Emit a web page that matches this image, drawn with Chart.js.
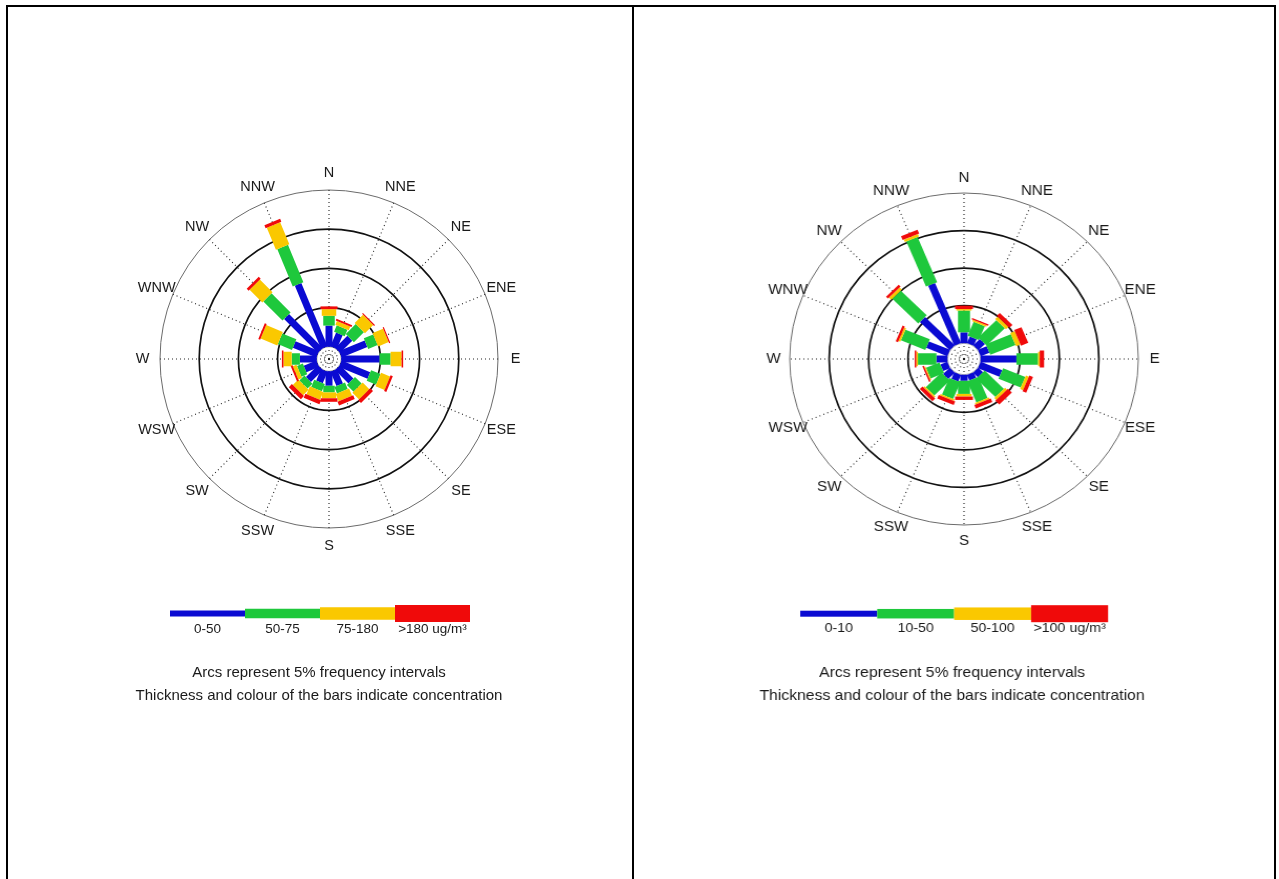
<!DOCTYPE html>
<html>
<head>
<meta charset="utf-8">
<script src="https://cdn.jsdelivr.net/npm/chart.js@4.4.1/dist/chart.umd.min.js"></script>
<style>
html, body { margin: 0; background: #fff; overflow: hidden; }
#frame { position: absolute; left: 6px; top: 5px; width: 1266px; height: 900px; border: 2px solid #000; border-bottom: none; z-index: 2; pointer-events: none; }
#divider { position: absolute; left: 632px; top: 5px; width: 2px; height: 900px; background: #000; z-index: 2; }
canvas { position: absolute; top: 7px; }
#left { left: 8px; }
#right { left: 634px; transform-origin: 330px 352px; transform: scaleX(1.05); }
</style>
</head>
<body>
<div id="frame"></div>
<div id="divider"></div>
<canvas id="left" width="624" height="872"></canvas>
<canvas id="right" width="640" height="872"></canvas>
<script>
// wind directions, clockwise from north
const directions = ['N', 'NNE', 'NE', 'ENE', 'E', 'ESE', 'SE', 'SSE', 'S', 'SSW', 'SW', 'WSW', 'W', 'WNW', 'NW', 'NNW'];
const ringTicks = [0, 5, 10, 15, 20];   // % frequency arcs

// left rose: frequency (%) per concentration class
const leftClasses = ['0-50', '50-75', '75-180', '>180 ug/m³'];
const leftBlue   = [2.7, 1.9, 2.2, 3.55, 4.9, 3.95, 2.4, 2.0, 1.85, 1.6, 2.15, 1.75, 2.15, 3.25, 6.1, 8.75];
const leftGreen  = [1.25, 0.9, 1.8, 1.3, 1.4, 1.3, 1.2, 0.9, 0.85, 1.0, 0.9, 0.8, 1.05, 1.95, 3.45, 5.15];
const leftYellow = [0.85, 0.5, 1.5, 1.45, 1.4, 1.25, 1.2, 1.0, 0.75, 1.1, 1.0, 0.5, 1.05, 2.3, 2.3, 3.05];
const leftRed    = [0.35, 0.25, 0.15, 0.15, 0.2, 0.3, 0.5, 0.5, 0.45, 0.55, 0.55, 0.25, 0.2, 0.25, 0.35, 0.4];

// right rose
const rightClasses = ['0-10', '10-50', '50-100', '>100 ug/m³'];
const rightBlue   = [1.45, 0.95, 1.2, 1.2, 4.55, 2.95, 0.85, 0.8, 0.8, 0.95, 1.2, 0.95, 1.4, 2.9, 5.35, 8.65];
const rightGreen  = [2.9, 2.0, 3.25, 3.45, 2.75, 3.05, 3.45, 3.05, 1.75, 2.4, 2.8, 1.85, 2.35, 3.35, 4.65, 6.5];
const rightYellow = [0.2, 0.2, 0.45, 0.6, 0.2, 0.4, 0.35, 0.2, 0.35, 0.2, 0.2, 0.15, 0.2, 0.25, 0.4, 0.35];
const rightRed    = [0.45, 0.2, 0.55, 1.0, 0.55, 0.5, 0.7, 0.5, 0.45, 0.5, 0.5, 0.2, 0.2, 0.3, 0.35, 0.55];

const captionLines = ['Arcs represent 5% frequency intervals', 'Thickness and colour of the bars indicate concentration'];

const classColors = ['#0a0ad2', '#1ec83c', '#fac800', '#f00a0a'];
const roseWidths = [7, 11.5, 14.5, 17];
const keyHeights = [6, 9.5, 12.5, 17];
const FONT = '"Liberation Sans", Arial, sans-serif';

const rosePlugin = {
  id: 'rose',
  afterDatasetsDraw(chart) {
    const ctx = chart.ctx, r = chart.scales.r, o = chart.options.plugins.rose;
    const sets = chart.data.datasets;
    ctx.save();
    ctx.lineCap = 'butt';
    chart.data.labels.forEach((lab, i) => {
      let from = 0;
      sets.forEach((ds, k) => {
        const to = from + ds.data[i];
        const a = r.getPointPositionForValue(i, from);
        const b = r.getPointPositionForValue(i, to);
        ctx.strokeStyle = classColors[k];
        ctx.lineWidth = roseWidths[k];
        ctx.beginPath();
        ctx.moveTo(a.x, a.y);
        ctx.lineTo(b.x, b.y);
        ctx.stroke();
        from = to;
      });
    });
    // compass labels
    ctx.fillStyle = '#1a1a1a';
    ctx.font = '14.5px ' + FONT;
    ctx.textAlign = 'center';
    ctx.textBaseline = 'middle';
    chart.data.labels.forEach((lab, i) => {
      const p = r.getPointPosition(i, r.drawingArea + o.labelGap);
      ctx.fillText(lab, p.x, p.y);
    });
    ctx.restore();
  },
  afterDraw(chart) {
    const ctx = chart.ctx, o = chart.options.plugins.rose;
    ctx.save();
    o.classes.forEach((c, k) => {
      const x0 = o.keyX + k * o.keyW;
      ctx.fillStyle = classColors[k];
      ctx.fillRect(x0, o.keyY - keyHeights[k] / 2, o.keyW, keyHeights[k]);
    });
    ctx.fillStyle = '#1a1a1a';
    ctx.textAlign = 'center';
    ctx.textBaseline = 'middle';
    ctx.font = '13.5px ' + FONT;
    o.classes.forEach((c, k) => {
      ctx.fillText(c, o.keyX + (k + 0.5) * o.keyW, o.keyLabelY);
    });
    ctx.font = '15px ' + FONT;
    captionLines.forEach((t, j) => ctx.fillText(t, o.captionX, o.captionY + j * 23));
    ctx.restore();
  }
};

function makeRose(id, classes, series, min, pad, extra) {
  new Chart(document.getElementById(id), {
    type: 'radar',
    data: {
      labels: directions,
      datasets: series.map((d, k) => ({
        label: classes[k],
        data: d,
        showLine: false,
        fill: false,
        pointRadius: 0,
        pointHoverRadius: 0
      }))
    },
    options: {
      responsive: false,
      animation: false,
      events: [],
      layout: { padding: pad },
      plugins: {
        legend: { display: false },
        tooltip: { enabled: false },
        rose: Object.assign({ classes: classes }, extra)
      },
      scales: {
        r: {
          min: min,
          max: 20,
          afterBuildTicks: s => { s.ticks = ringTicks.map(v => ({ value: v })); },
          ticks: { display: false },
          pointLabels: { display: false },
          grid: {
            circular: true,
            color: c => c.tick.value === 0 ? '#9a9a9a' : (c.tick.value === 20 ? '#6a6a6a' : '#111'),
            lineWidth: c => c.tick.value === 0 ? 0.8 : (c.tick.value === 20 ? 1 : 1.7)
          },
          angleLines: { display: true, color: '#222', lineWidth: 1.1, borderDash: [1, 3] }
        }
      }
    },
    plugins: [rosePlugin]
  });
}

makeRose('left', leftClasses, [leftBlue, leftGreen, leftYellow, leftRed], -1.56,
  { left: 152, right: 134, top: 183, bottom: 351 },
  { labelGap: 17.5, keyX: 162, keyW: 75, keyY: 606.5, keyLabelY: 622, captionX: 311, captionY: 666 });

makeRose('right', rightClasses, [rightBlue, rightGreen, rightYellow, rightRed], -2.1,
  { left: 164, right: 144, top: 186, bottom: 354 },
  { labelGap: 15.5, keyX: 174, keyW: 73.3, keyY: 606.7, keyLabelY: 621.3, captionX: 318.6, captionY: 666.3 });
</script>
</body>
</html>
